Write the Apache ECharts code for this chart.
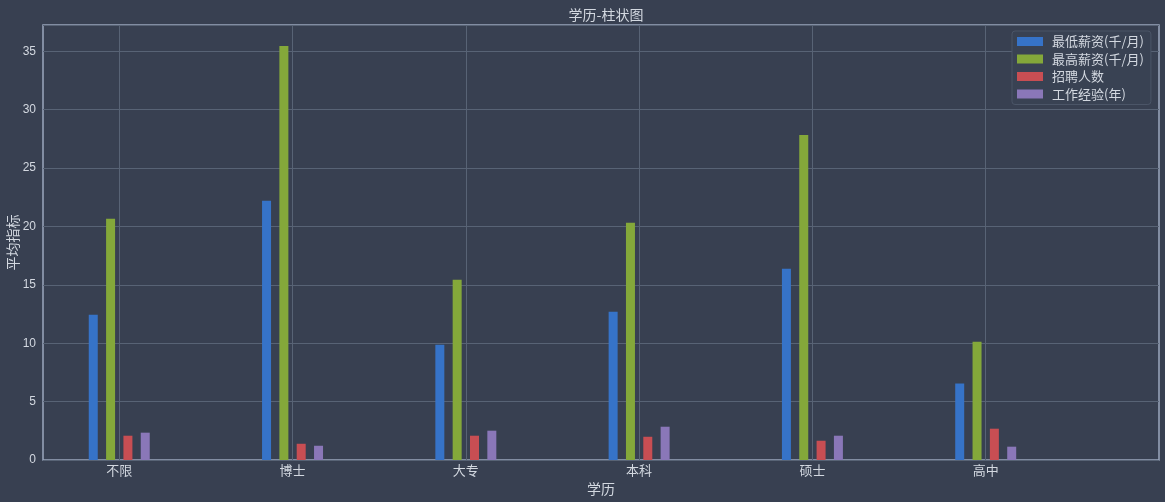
<!DOCTYPE html>
<html>
<head>
<meta charset="utf-8">
<script src="https://cdn.jsdelivr.net/npm/echarts@6/dist/echarts.min.js"></script>
<style>
html,body{margin:0;padding:0;background:#384051;}
#c{width:1165px;height:502px;}
</style>
</head>
<body>
<div id="c"></div>
<script>
const categories = ['不限', '博士', '大专', '本科', '硕士', '高中'];
const seriesNames = ['最低薪资(千/月)', '最高薪资(千/月)', '招聘人数', '工作经验(年)'];
const minSalary = [12.43, 22.19, 9.87, 12.70, 16.37, 6.55];
const maxSalary = [20.65, 35.45, 15.43, 20.31, 27.84, 10.12];
const hireCount = [2.08, 1.39, 2.08, 1.99, 1.65, 2.68];
const workYears = [2.34, 1.22, 2.51, 2.85, 2.08, 1.14];
const yTicks = [0, 5, 10, 15, 20, 25, 30, 35];

const colors = ['#3673c8', '#84a83a', '#c84e53', '#8a77b8'];
const offsets = [-0.15, -0.05, 0.05, 0.15];
const allValues = [minSalary, maxSalary, hireCount, workYears];
const catIdx = categories.map((_, i) => i);

const cjk = '"Noto Sans CJK SC", "DejaVu Sans", sans-serif';
const textColor = '#d3d8e0';

const chart = echarts.init(document.getElementById('c'));
chart.setOption({
  backgroundColor: '#384051',
  animation: false,
  title: {
    text: '学历-柱状图',
    left: 601, top: 3, textAlign: 'center',
    textStyle: { color: textColor, fontSize: 14, fontWeight: 'normal', fontFamily: cjk }
  },
  legend: {
    orient: 'vertical',
    left: 1012, top: 31,
    padding: [4, 7, 4, 5],
    itemWidth: 26, itemHeight: 9, itemGap: 4.5,
    icon: 'rect',
    backgroundColor: '#394253',
    borderColor: '#4b5567', borderWidth: 1, borderRadius: 3,
    textStyle: { color: textColor, fontSize: 13, fontFamily: cjk, padding: [0, 0, 0, 4] },
    data: seriesNames.map((n, i) => ({ name: n, itemStyle: { color: colors[i] } }))
  },
  grid: {
    left: 43, top: 25, right: 6, bottom: 42,
    containLabel: false, outerBoundsMode: 'none',
    show: true, borderColor: '#9aa6bd', borderWidth: 1.5
  },
  xAxis: {
    type: 'value', min: -0.44, max: 6,
    name: '学历', nameLocation: 'middle', nameGap: 22, nameMoveOverlap: false,
    nameTextStyle: { color: textColor, fontSize: 14, fontFamily: cjk },
    axisLine: { show: false },
    axisTick: { show: false, customValues: catIdx },
    axisLabel: {
      customValues: catIdx, color: textColor, fontSize: 13, fontFamily: cjk, margin: 4,
      formatter: v => categories[Math.round(v)] || ''
    },
    splitLine: { show: true, lineStyle: { color: '#586375', width: 1 } }
  },
  yAxis: {
    type: 'value', min: 0, max: 37.25, interval: 5,
    name: '平均指标', nameLocation: 'middle', nameGap: 23, nameMoveOverlap: false,
    nameTextStyle: { color: textColor, fontSize: 14, fontFamily: cjk },
    axisLine: { show: false },
    axisTick: { show: false },
    axisLabel: {
      color: textColor, fontSize: 12, fontFamily: '"Liberation Sans", Arial, sans-serif', margin: 7,
      showMaxLabel: false,
      formatter: v => (yTicks.indexOf(v) >= 0 ? String(v) : '')
    },
    splitLine: { show: true, lineStyle: { color: '#586375', width: 1 } }
  },
  series: seriesNames.map((name, s) => ({
    name: name,
    type: 'bar',
    barWidth: 9,
    barGap: '-100%',
    itemStyle: { color: colors[s] },
    data: allValues[s].map((v, i) => [i + offsets[s], v])
  }))
});
</script>
</body>
</html>
